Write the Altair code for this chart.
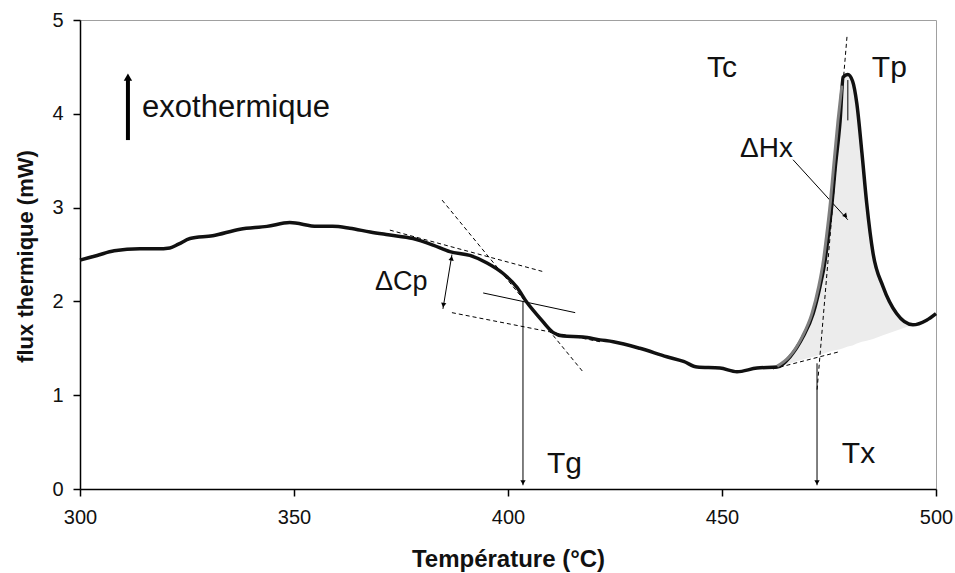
import altair as alt
import pandas as pd

# ---- main DSC curve ----
temp = [300, 304, 308, 314, 318, 321, 323, 325.7, 331, 337.4, 343.7, 349, 355.4, 359, 363,
        367.8, 372, 377.8, 382.5, 386.4, 391.1, 395.1, 398.8, 402.1, 404.4, 407.5, 410.5,
        412.9, 417.5, 421.5, 424.6, 430.8, 437.1, 441, 444.2, 449.5, 453.5, 458.2, 462.9,
        465.9, 468.9, 471.3, 472.9, 474.1, 474.8, 475.7, 476.4, 477.6, 478.3, 479.4, 480.5,
        481.5, 482.7, 483.8, 485.3, 487.6, 490.8, 494.6, 497.8, 500]
flux = [2.44, 2.49, 2.54, 2.56, 2.56, 2.57, 2.61, 2.67, 2.70, 2.77, 2.80, 2.84, 2.80, 2.80, 2.78,
        2.74, 2.71, 2.67, 2.60, 2.53, 2.49, 2.41, 2.30, 2.15, 1.99, 1.82, 1.67,
        1.63, 1.62, 1.59, 1.57, 1.50, 1.41, 1.36, 1.30, 1.29, 1.25, 1.29, 1.30,
        1.41, 1.62, 1.87, 2.16, 2.44, 2.69, 3.05, 3.40, 3.93, 4.39, 4.42, 4.35,
        4.11, 3.58, 3.05, 2.51, 2.16, 1.87, 1.75, 1.80, 1.87]

# ---- grey fitted rising edge of the crystallisation peak ----
edge_temp = [462.9, 465.7, 468.7, 471.0, 472.6, 473.7, 474.4, 475.3, 476.0, 477.1, 478.0]
edge_flux = [1.31, 1.41, 1.62, 1.87, 2.16, 2.44, 2.69, 3.05, 3.40, 3.93, 4.30]

# ---- shaded crystallisation area (lower boundary = curved baseline) ----
fill_temp = [462.9, 465.9, 468.9, 471.3, 472.9, 474.1, 474.8, 475.7, 476.4, 477.6, 478.3,
             479.4, 480.5, 481.5, 482.7, 483.8, 485.3, 487.6, 490.8, 494.6]
fill_base = [1.30, 1.34, 1.38, 1.41, 1.43, 1.45, 1.46, 1.47, 1.48, 1.49, 1.50,
             1.52, 1.53, 1.55, 1.57, 1.58, 1.60, 1.64, 1.69, 1.75]

# ---- construction lines: x1, y1, x2, y2, style ----
seg_x1 = [372.4, 384.6, 386.9, 461.9, 479.2, 394.2, 403.5, 472.2, 386.9, 466.6, 479.4]
seg_y1 = [2.76, 3.08, 1.88, 1.28, 4.82, 2.09, 2.00, 1.34, 2.50, 3.51, 4.36]
seg_x2 = [408.0, 417.5, 421.5, 477.1, 472.2, 415.7, 403.5, 472.2, 384.8, 479.4, 479.4]
seg_y2 = [2.32, 1.25, 1.57, 1.46, 1.05, 1.88, 0.04, 0.04, 1.92, 2.87, 3.93]
seg_style = ["dash", "dash", "dash", "dash", "dash", "solid", "solid", "solid", "solid", "solid", "solid"]

# ---- arrow heads ----
head_x = [403.5, 472.2, 386.8, 384.9, 478.9]
head_y = [0.07, 0.07, 2.46, 1.96, 2.91]
head_ang = [180, 180, 10, 190, 138]

# ---- "exothermique" arrow ----
exo_x = [311.2]
exo_y1 = [3.72]
exo_y2 = [4.36]
exo_head_y = [4.39]

# ---- annotations ----
lab_text = ["exothermique", "Tc", "Tp", "\u0394Hx", "\u0394Cp", "Tg", "Tx"]
lab_x = [314.5, 446.5, 485.0, 454.2, 368.9, 409.1, 478.0]
lab_y = [3.97, 4.39, 4.39, 3.54, 2.12, 0.17, 0.28]
lab_size = [31, 30, 30, 28, 27, 30, 30]

FONT = "Liberation Sans"

xs = alt.Scale(domain=[300, 500], nice=False, zero=False)
ys = alt.Scale(domain=[0, 5], nice=False)

curve_df = pd.DataFrame({"T": temp, "F": flux})
edge_df = pd.DataFrame({"T": edge_temp, "F": edge_flux})
fill_top = [f for t, f in zip(temp, flux) if 462.9 <= t <= 494.6]
fill_df = pd.DataFrame({"T": fill_temp, "top": fill_top, "base": fill_base})
seg_df = pd.DataFrame({"x1": seg_x1, "y1": seg_y1, "x2": seg_x2, "y2": seg_y2, "style": seg_style})
head_df = pd.DataFrame({"x": head_x, "y": head_y, "a": head_ang})
exo_df = pd.DataFrame({"x": exo_x, "y1": exo_y1, "y2": exo_y2, "hy": exo_head_y})
lab_df = pd.DataFrame({"t": lab_text, "x": lab_x, "y": lab_y, "s": lab_size})

xaxis = alt.Axis(values=[300, 350, 400, 450, 500], title="Température (°C)", grid=False,
                 format="d", labelFlush=False,
                 domainColor="black", domainWidth=1.5, tickColor="black", tickWidth=1.5,
                 tickSize=7, labelFontSize=20, labelPadding=11, labelColor="#111",
                 labelFont=FONT, titleFont=FONT, titleFontSize=24, titleFontWeight="bold",
                 titleColor="#111", titleY=70, titleBaseline="middle")
yaxis = alt.Axis(values=[0, 1, 2, 3, 4, 5], title="flux thermique (mW)", grid=False,
                 format="d", labelFlush=False,
                 domainColor="black", domainWidth=1.5, tickColor="black", tickWidth=1.5,
                 tickSize=7, labelFontSize=20, labelPadding=10, labelColor="#111",
                 labelFont=FONT, titleFont=FONT, titleFontSize=22, titleFontWeight="bold",
                 titleColor="#111", titleX=-55, titleY=236, titleAngle=270,
                 titleAlign="center", titleBaseline="middle")

area = alt.Chart(fill_df).mark_area(color="#ececec", opacity=1).encode(
    x=alt.X("T:Q", scale=xs, axis=xaxis),
    y=alt.Y("top:Q", scale=ys, axis=yaxis),
    y2="base:Q",
)

dashed = alt.Chart(seg_df).transform_filter(alt.datum.style == "dash").mark_rule(
    color="black", strokeWidth=1, strokeDash=[4, 3]).encode(
    x=alt.X("x1:Q", scale=xs), y=alt.Y("y1:Q", scale=ys), x2="x2:Q", y2="y2:Q")

solid = alt.Chart(seg_df).transform_filter(alt.datum.style == "solid").mark_rule(
    color="black", strokeWidth=1).encode(
    x=alt.X("x1:Q", scale=xs), y=alt.Y("y1:Q", scale=ys), x2="x2:Q", y2="y2:Q")

curve = alt.Chart(curve_df).mark_line(color="#111", strokeWidth=3.5, interpolate="monotone").encode(
    x=alt.X("T:Q", scale=xs), y=alt.Y("F:Q", scale=ys))

edge = alt.Chart(edge_df).mark_line(color="#808080", strokeWidth=3, interpolate="monotone").encode(
    x=alt.X("T:Q", scale=xs), y=alt.Y("F:Q", scale=ys))

heads = alt.Chart(head_df).mark_point(shape="triangle-up", filled=True, color="black",
                                      opacity=1, size=28).encode(
    x=alt.X("x:Q", scale=xs), y=alt.Y("y:Q", scale=ys), angle=alt.Angle("a:Q", scale=None))

exo_line = alt.Chart(exo_df).mark_rule(color="black", strokeWidth=4).encode(
    x=alt.X("x:Q", scale=xs), y=alt.Y("y1:Q", scale=ys), y2="y2:Q")
exo_head = alt.Chart(exo_df).mark_point(shape="triangle-up", filled=True, color="black",
                                        opacity=1, size=70).encode(
    x=alt.X("x:Q", scale=xs), y=alt.Y("hy:Q", scale=ys))

labels = alt.Chart(lab_df).mark_text(align="left", baseline="alphabetic", font=FONT,
                                     color="#111").encode(
    x=alt.X("x:Q", scale=xs), y=alt.Y("y:Q", scale=ys), text="t:N",
    size=alt.Size("s:Q", scale=None, legend=None))

chart = alt.layer(area, dashed, solid, curve, edge, heads, exo_line, exo_head, labels).properties(
    width=856, height=469,
    autosize=alt.AutoSizeParams(type="none"),
    padding={"left": 80, "top": 20, "right": 19, "bottom": 84},
    background="white",
).configure_view(stroke="#a0a0a0", strokeWidth=1)

chart.save("out.html", embed_options={"renderer": "svg", "actions": False})
